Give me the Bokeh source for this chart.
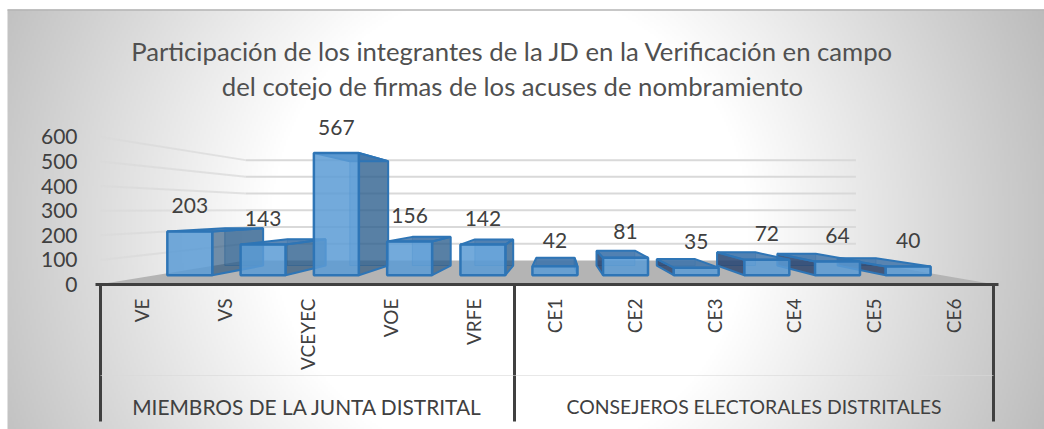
import numpy as np
from bokeh.plotting import figure
from bokeh.models import Range1d, FixedTicker
from bokeh.core.properties import value
from bokeh.embed import file_html
from bokeh.resources import INLINE

# ---- chart data ----
title_lines = ["Participación de los integrantes de la JD en la Verificación en campo",
               "del cotejo de firmas de los acuses de nombramiento"]
group_names = ["MIEMBROS DE LA JUNTA DISTRITAL", "CONSEJEROS ELECTORALES DISTRITALES"]
group_cats = [["VE", "VS", "VCEYEC", "VOE", "VRFE"],
              ["CE1", "CE2", "CE3", "CE4", "CE5", "CE6"]]
group_vals = [[203, 143, 567, 156, 142],
              [42, 81, 35, 72, 64, 40]]
y_ticks = [0, 100, 200, 300, 400, 500, 600]

# ---- page geometry and 3-D view ----
W, H = 1044, 429
FONT = "Lato"
PX_PER_UNIT = 0.246
BASE_PX = 284                 # page y of value 0 on the axis plane
VX, VY_PX = 558, 209          # vanishing point
S_FRONT, S_BACK, S_WALL = 0.885, 0.755, 0.676
SY_FRONT, SY_BACK, SY_WALL = 0.876, 0.747, 0.68
AX_L, AX_R = 95, 998
SEP = [100, 514, 993]
BAR_HALF = 25.4

def v_of(px):
    return (BASE_PX - px) / PX_PER_UNIT

VY = v_of(VY_PX)

def proj_x(x, s):
    return VX + (x - VX) * s

def proj_y(v, s):
    return VY + (v - VY) * s

p = figure(width=W, height=H, output_backend="svg", toolbar_location=None,
           x_range=Range1d(0, W), y_range=Range1d(v_of(H), v_of(0)),
           min_border=0, outline_line_color=None, background_fill_color="white",
           border_fill_color="white")
p.grid.visible = False

# background radial gradient
X0, Y0 = 7, 9
gx, gy = np.meshgrid(np.arange(X0, W, 2) + 1.0, np.arange(H - 1, Y0, -2) - 1.0)
dist = np.hypot(gx - 510, gy - 225)
shade = np.clip(255 - 0.2 * np.maximum(dist - 240, 0), 0, 255).astype(np.uint8)
rgba = np.dstack([shade, shade, shade, np.full_like(shade, 255)]).astype(np.uint8)
img = rgba.view(np.uint32).reshape(shade.shape)
p.image_rgba(image=[img], x=X0, y=v_of(H), dw=W - X0, dh=v_of(Y0) - v_of(H))
p.segment(x0=[X0], x1=[W], y0=[v_of(Y0 + .5)], y1=[v_of(Y0 + .5)], line_color="#b4b4b4", line_width=1.5)

# walls' gridlines
for t in y_ticks[1:]:
    xw, yw = proj_x(AX_L, S_WALL), proj_y(t, SY_WALL)
    p.line([xw, proj_x(AX_R, S_WALL)], [yw, yw], line_color="#d9d9d9", line_width=2)
    p.line([AX_L + 5, xw], [t, yw], line_color="#d9d9d9", line_width=2, line_alpha=0.75)

# floor
p.patch([AX_L + 3, AX_R - 3, proj_x(AX_R, S_WALL), proj_x(AX_L, S_WALL)],
        [0, 0, proj_y(0, SY_WALL), proj_y(0, SY_WALL)],
        fill_color="#b4b4b4", line_color=None)

# bars, in the axis plane slots
names, vals, xpos = [], [], []
for g, (cats, vv) in enumerate(zip(group_cats, group_vals)):
    step = (SEP[g + 1] - SEP[g]) / len(cats)
    for i, (c, v) in enumerate(zip(cats, vv)):
        names.append(c)
        vals.append(v)
        xpos.append(SEP[g] + step * (i + 0.5))

EDGE = "#2e75b6"
order = sorted(range(len(xpos)), key=lambda k: -abs(xpos[k] - VX))
for k in order:
    xl, xr, v = xpos[k] - BAR_HALF, xpos[k] + BAR_HALF, vals[k]
    fl, fr = proj_x(xl, S_FRONT), proj_x(xr, S_FRONT)
    bl, br = proj_x(xl, S_BACK), proj_x(xr, S_BACK)
    ft, fb = proj_y(v, SY_FRONT), proj_y(0, SY_FRONT)
    bt, bb = proj_y(v, SY_BACK), proj_y(0, SY_BACK)
    # back face
    p.patch([bl, br, br, bl], [bb, bb, bt, bt], fill_color="#5b9bd5", fill_alpha=0.45,
            line_color=EDGE, line_alpha=0.5, line_width=1)
    # visible side
    if bl > fl + 3 or br > fr + 3:
        sx = [fr, br, br, fr]
        p.patch(sx, [fb, bb, bt, ft], fill_color="#1f4e79", fill_alpha=0.62,
                line_color=EDGE, line_width=2)
    elif br < fr - 3 and bl < fl - 3:
        sx = [fl, bl, bl, fl]
        p.patch(sx, [fb, bb, bt, ft], fill_color="#1f3864", fill_alpha=0.75,
                line_color=EDGE, line_width=2)
    # top
    p.patch([fl, fr, br, bl], [ft, ft, bt, bt], fill_color="#3f73a8", fill_alpha=0.85,
            line_color=EDGE, line_width=2)
    # front
    p.quad(left=fl, right=fr, bottom=fb, top=ft, fill_color="#5b9bd5", fill_alpha=0.85,
           line_color=EDGE, line_width=2.5)

# data labels
lx = [proj_x(x, S_FRONT) for x in xpos]
ly = [proj_y(v, SY_FRONT) for v in vals]
p.text(x=lx, y=ly, text=[str(v) for v in vals], text_align="center", text_baseline="middle",
       y_offset=-26, text_font=value(FONT), text_font_size="21px", text_color="#404040")

# axes
yax = p.yaxis[0]
yax.fixed_location = 85
yax.ticker = FixedTicker(ticks=y_ticks)
yax.axis_line_color = None
yax.major_tick_line_color = None
yax.minor_tick_line_color = None
yax.major_label_standoff = 2
yax.major_label_text_font = FONT
yax.major_label_text_font_size = "21px"
yax.major_label_text_color = "#404040"

xax = p.xaxis[0]
xax.fixed_location = 0
xax.bounds = (AX_L, AX_R)
xax.ticker = FixedTicker(ticks=xpos)
xax.major_label_overrides = dict(zip(xpos, names))
xax.major_label_orientation = np.pi / 2
xax.major_tick_line_color = None
xax.minor_tick_line_color = None
xax.axis_line_color = "#404040"
xax.axis_line_width = 3
xax.major_label_standoff = 8
xax.major_label_text_font = FONT
xax.major_label_text_font_size = "19px"
xax.major_label_text_color = "#404040"

# multi-level separators
p.segment(x0=SEP, x1=SEP, y0=[0] * 3, y1=[v_of(421)] * 3, line_color="#404040", line_width=3)
p.segment(x0=SEP[:2], x1=SEP[1:], y0=[v_of(375)] * 2, y1=[v_of(375)] * 2, line_color="#d9d9d9", line_width=1, line_alpha=0.6)

# group labels
for g, size in enumerate(["20.9px", "19.4px"]):
    p.text(x=[(SEP[g] + SEP[g + 1]) / 2], y=[v_of(406)], text=[group_names[g]],
           text_align="center", text_baseline="middle", text_font=value(FONT),
           text_font_size=size, text_color="#404040")

# chart title
p.text(x=[512, 512], y=[v_of(50), v_of(85)], text=title_lines, text_align="center",
       text_baseline="middle", text_font=value(FONT), text_font_size="25.7px",
       text_color="#505050")

open("out.html", "w").write(file_html(p, INLINE))
